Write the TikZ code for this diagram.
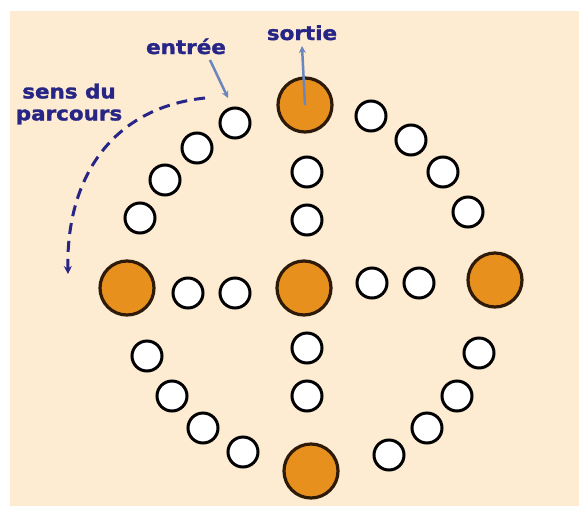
\documentclass[tikz,border=0pt]{standalone}
\usepackage{fontspec}
\newfontfamily\labfont[FakeStretch=1.1,FakeBold=1.5]{DejaVu Sans}
\usetikzlibrary{arrows.meta}
\definecolor{cream}{HTML}{FDEBD2}
\definecolor{navy}{HTML}{272585}
\definecolor{steel}{HTML}{6A86BE}
\definecolor{peg}{HTML}{E8901E}
\definecolor{rim}{HTML}{2E1A08}
\tikzset{
  small/.style={circle,draw=black,line width=3pt,fill=white,minimum size=30pt,inner sep=0pt},
  big/.style={circle,draw=rim,line width=3.2pt,fill=peg,minimum size=54pt,inner sep=0pt},
  lab/.style={text=navy,font=\labfont\bfseries\fontsize{19.5}{22}\selectfont,inner sep=0pt},
  pointer/.style={draw=steel,line width=2.5pt,-{Stealth[length=7pt,width=7pt]}},
  sens/.style={draw=navy,line width=3pt,dash pattern=on 11pt off 7pt,-{Stealth[length=8pt,width=8pt]}}
}
\begin{document}
\begin{tikzpicture}[x=1pt,y=-1pt]
\fill[white] (0,0) rectangle (579,507);
\fill[cream] (10,11) rectangle (579,506);
\useasboundingbox (0,0) rectangle (579,507);
% big pegs
\node[big] (T) at (305,105) {};
\node[big] (L) at (127,288) {};
\node[big] (C) at (304,288) {};
\node[big] (R) at (495,280) {};
\node[big] (B) at (311,471) {};
% upper-left arc
\node[small] (a1) at (235,123) {};
\node[small] (a2) at (197,148) {};
\node[small] (a3) at (165,180) {};
\node[small] (a4) at (140,218) {};
% upper-right arc
\node[small] (b1) at (371,116) {};
\node[small] (b2) at (411,140) {};
\node[small] (b3) at (443,172) {};
\node[small] (b4) at (468,212) {};
% vertical
\node[small] (v1) at (307,172) {};
\node[small] (v2) at (307,220) {};
\node[small] (v3) at (307,348) {};
\node[small] (v4) at (307,396) {};
% horizontal
\node[small] (h1) at (188,293) {};
\node[small] (h2) at (235,293) {};
\node[small] (h3) at (372,283) {};
\node[small] (h4) at (419,283) {};
% lower-left arc
\node[small] (c1) at (147,356) {};
\node[small] (c2) at (172,396) {};
\node[small] (c3) at (203,428) {};
\node[small] (c4) at (243,452) {};
% lower-right arc
\node[small] (d1) at (479,353) {};
\node[small] (d2) at (457,396) {};
\node[small] (d3) at (427,428) {};
\node[small] (d4) at (389,455) {};
% labels
\node[lab,anchor=base] (entree) at (186,54) {entrée};
\node[lab,anchor=base] (sortie) at (302,40) {sortie};
\node[lab,align=center] (sensdu) at (69,104) {sens du\\parcours};
% connectors
\coordinate (sortietip) at (302,46);
\coordinate (entreefrom) at (210,60);
\coordinate (entreetip) at (228,98);
\coordinate (sensfrom) at (205,98);
\coordinate (senstip) at (68,274);
\draw[pointer] (T.center) -- (sortietip);
\draw[pointer] (entreefrom) -- (entreetip);
\draw[sens] (sensfrom) .. controls (110,108) and (66,180) .. (senstip);
\end{tikzpicture}
\end{document}
